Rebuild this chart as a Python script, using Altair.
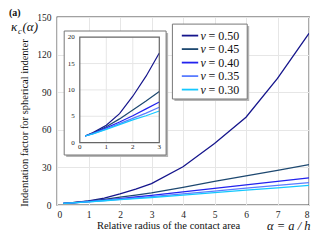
import altair as alt
import pandas as pd

# ---------------- data ----------------
alpha = [0.2, 0.5, 1, 1.5, 2, 2.5, 3, 4, 5, 6, 7, 8]
k050 = [1.25, 1.9, 3.3, 5.5, 8.8, 12.6, 17.0, 30.5, 49, 70, 101, 137]
k045 = [1.25, 1.8, 3.0, 4.5, 6.2, 7.9, 9.7, 14.1, 18.8, 23.3, 27.7, 32.2]
k040 = [1.25, 1.75, 2.8, 3.9, 5.1, 6.4, 7.7, 10.4, 13.2, 16.0, 18.8, 21.7]
k035 = [1.25, 1.7, 2.6, 3.6, 4.6, 5.6, 6.7, 8.9, 11.1, 13.4, 15.6, 17.8]
k030 = [1.25, 1.65, 2.5, 3.4, 4.3, 5.1, 6.0, 7.9, 9.8, 11.8, 13.7, 15.7]
nu_values = ["0.50", "0.45", "0.40", "0.35", "0.30"]
nu_labels = ["ν = " + v for v in nu_values]
colors = ["#15158c", "#1d4870", "#2222ee", "#5a7cff", "#14c8ff"]

main_x_ticks = [0, 1, 2, 3, 4, 5, 6, 7, 8]
main_y_ticks = [0, 30, 60, 90, 120, 150]
inset_x_ticks = [0, 1, 2, 3]
inset_y_ticks = [0, 5, 10, 15, 20]
inset_x_grid = [1, 2]
inset_y_grid = [5, 10, 15]

rows = []
for lab, vals in zip(nu_labels, [k050, k045, k040, k035, k030]):
    for a, k in zip(alpha, vals):
        rows.append({"alpha": a, "kappa": k, "nu": lab})
df = pd.DataFrame(rows)
df_in = df[df["alpha"] <= 3]
leg_df = pd.DataFrame({"nu": nu_labels, "row": list(range(len(nu_labels))),
                       "val": ["= " + v for v in nu_values]})

SERIF = "Liberation Serif"
W, H = 252, 188
color_scale = alt.Scale(domain=nu_labels, range=colors)

# ---------------- main chart ----------------
main = alt.Chart(df).mark_line(strokeWidth=1.3, clip=True).encode(
    x=alt.X("alpha:Q", scale=alt.Scale(domain=[0, 8], nice=False),
            axis=alt.Axis(values=main_x_ticks, grid=True, gridColor="#e6e6e6",
                          domain=False, ticks=False, labelFont=SERIF, labelFontSize=9.5,
                          labelColor="#222", labelPadding=4, title=None)),
    y=alt.Y("kappa:Q", scale=alt.Scale(domain=[0, 150], nice=False),
            axis=alt.Axis(values=main_y_ticks, grid=True, gridColor="#e6e6e6",
                          domain=False, ticks=False, labelFont=SERIF, labelFontSize=9.5,
                          labelColor="#222", labelPadding=6, title=None)),
    color=alt.Color("nu:N", scale=color_scale, legend=None),
    order=alt.Order("alpha:Q"),
)

one = pd.DataFrame({"d": [0]})

def box(x0, x1, y0, y1, fill, stroke=None):
    kw = {"fill": fill}
    if stroke:
        kw.update(stroke=stroke, strokeWidth=1)
    return alt.Chart(one).mark_rect(**kw).encode(
        x=alt.value(x0), x2=alt.value(x1), y=alt.value(y0), y2=alt.value(y1))

def txt(text, x, y, size, style="italic", weight="normal", align="left", angle=0):
    return alt.Chart(one).mark_text(
        text=text, font=SERIF, fontSize=size, fontStyle=style, fontWeight=weight,
        align=align, baseline="middle", color="#111", angle=angle).encode(
        x=alt.value(x), y=alt.value(y))

inset_shadow = box(9.2, 111.1, 16, 140, "#b5b5b5")
inset_box = box(7.2, 109.1, 14, 138, "white", "#777")

texts = [
    txt("(a)", -48, -4, 10, style="normal", weight="bold"),
    txt("κ", -46, 10, 13),
    txt("c", -39, 13.5, 8.5),
    txt("(α)", -34.5, 10, 13),
    txt("Indentation factor for spherical indenter", -32, 106, 10.5,
        style="normal", align="center", angle=270),
    txt("Relative radius of the contact area", 111.5, 209, 10.5,
        style="normal", align="center"),
    txt("α = a / h", 253.5, 209, 12.5, align="right"),
]

# ---------------- legend (drawn from the series list) ----------------
LX0, LX1, LY0, LY1 = 115.4, 190.2, 7.1, 82.0
leg_y = alt.Y("row:Q", scale=alt.Scale(domain=[0, 4], range=[18.6, 72.6]), axis=None)
legend_shadow = box(LX0 + 2, LX1 + 2, LY0 + 2, LY1 + 2, "#b5b5b5")
legend_box = box(LX0, LX1, LY0, LY1, "white", "#777")
leg_lines = alt.Chart(leg_df).mark_rule(strokeWidth=1.8).encode(
    x=alt.value(124.8), x2=alt.value(141.2), y=leg_y,
    color=alt.Color("nu:N", scale=color_scale, legend=None))
leg_nu = alt.Chart(leg_df).mark_text(
    text="ν", font=SERIF, fontSize=12, fontStyle="italic", align="left",
    baseline="middle", color="#111").encode(x=alt.value(143.6), y=leg_y)
leg_val = alt.Chart(leg_df).mark_text(
    font=SERIF, fontSize=12, align="left", baseline="middle", color="#111").encode(
    x=alt.value(151.5), y=leg_y, text="val:N")
legend = alt.layer(legend_shadow, legend_box, leg_lines, leg_nu, leg_val)

# ---------------- inset ----------------
IX0, IX1, IY0, IY1 = 22.8, 102.3, 125.6, 20.2
xs_in = alt.Scale(domain=[0, 3], range=[IX0, IX1], nice=False, zero=False)
ys_in = alt.Scale(domain=[0, 20], range=[IY0, IY1], nice=False, zero=False)

vgrid = pd.DataFrame({"x": inset_x_grid, "y0": 0, "y1": 20})
hgrid = pd.DataFrame({"y": inset_y_grid, "x0": 0, "x1": 3})
frame = pd.DataFrame({"x0": [0], "x1": [3], "y0": [0], "y1": [20]})
xt = pd.DataFrame({"t": inset_x_ticks})
yt = pd.DataFrame({"t": inset_y_ticks})

in_vgrid = alt.Chart(vgrid).mark_rule(color="#e6e6e6", strokeWidth=1).encode(
    x=alt.X("x:Q", scale=xs_in, axis=None),
    y=alt.Y("y0:Q", scale=ys_in, axis=None), y2="y1:Q")
in_hgrid = alt.Chart(hgrid).mark_rule(color="#e6e6e6", strokeWidth=1).encode(
    y=alt.Y("y:Q", scale=ys_in, axis=None),
    x=alt.X("x0:Q", scale=xs_in, axis=None), x2="x1:Q")
in_lines = alt.Chart(df_in).mark_line(strokeWidth=1.2).encode(
    x=alt.X("alpha:Q", scale=xs_in, axis=None),
    y=alt.Y("kappa:Q", scale=ys_in, axis=None),
    color=alt.Color("nu:N", scale=color_scale, legend=None),
    order=alt.Order("alpha:Q"),
)
in_frame = alt.Chart(frame).mark_rect(fill=None, stroke="#666", strokeWidth=1.2).encode(
    x=alt.X("x0:Q", scale=xs_in, axis=None), x2="x1:Q",
    y=alt.Y("y0:Q", scale=ys_in, axis=None), y2="y1:Q",
)
in_xlab = alt.Chart(xt).mark_text(font=SERIF, fontSize=7, color="#222",
                                  baseline="middle", align="center").encode(
    x=alt.X("t:Q", scale=xs_in, axis=None), y=alt.value(IY0 + 4.6), text="t:Q")
in_ylab = alt.Chart(yt).mark_text(font=SERIF, fontSize=7, color="#222",
                                  baseline="middle", align="right").encode(
    y=alt.Y("t:Q", scale=ys_in, axis=None), x=alt.value(IX0 - 5), text="t:Q")
inset = alt.layer(in_vgrid, in_hgrid, in_lines, in_frame, in_xlab, in_ylab)

chart = alt.layer(
    main, inset_shadow, inset_box, inset, legend, *texts
).resolve_scale(
    x="independent", y="independent", color="shared"
).properties(
    width=W, height=H,
    padding={"left": 49, "top": 9, "right": 3, "bottom": 27},
    autosize=alt.AutoSizeParams(type="none"),
    background="white",
).configure(
    font=SERIF
).configure_axis(
    labelFont=SERIF, titleFont=SERIF
).configure_view(stroke="#444", strokeWidth=1.3)

chart.save("out.html", embed_options={"renderer": "svg", "actions": False})
